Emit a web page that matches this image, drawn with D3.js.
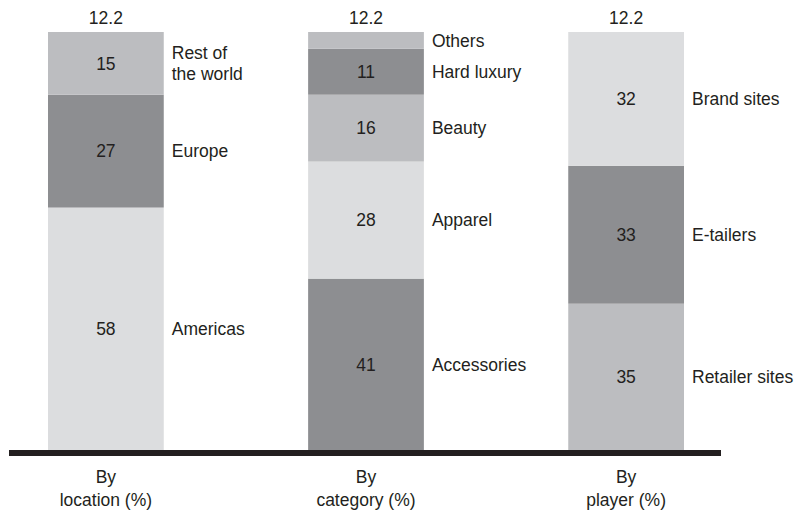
<!DOCTYPE html>
<html>
<head>
<meta charset="utf-8">
<script src="https://cdn.jsdelivr.net/npm/d3@7"></script>
<style>
  body { margin: 0; background: #fff; }
  svg text { font-family: "Liberation Sans", Arial, sans-serif; font-size: 17.5px; fill: #231f20; }
</style>
</head>
<body>
<svg id="chart" width="798" height="518"></svg>
<script>
// groups along the baseline
const groups = ["location", "category", "player"];
const groupTitles = [["By", "location (%)"], ["By", "category (%)"], ["By", "player (%)"]];
const totals = ["12.2", "12.2", "12.2"];

// segments bottom to top, per group
const locationLabels = [["Americas"], ["Europe"], ["Rest of", "the world"]];
const locationValues = [58, 27, 15];
const locationShades = ["light", "dark", "mid"];

const categoryLabels = [["Accessories"], ["Apparel"], ["Beauty"], ["Hard luxury"], ["Others"]];
const categoryValues = [41, 28, 16, 11, 4];
const categoryShades = ["dark", "light", "mid", "dark", "mid"];
const categoryShowValue = [true, true, true, true, false];

const playerLabels = [["Retailer sites"], ["E-tailers"], ["Brand sites"]];
const playerValues = [35, 33, 32];
const playerShades = ["mid", "dark", "light"];

const shadeColor = { light: "#dcdddf", mid: "#bcbdc0", dark: "#8d8e91" };

const svg = d3.select("#chart");

const x = d3.scaleBand().domain(groups).range([48, 684]).paddingInner(0.555).paddingOuter(0);
const y = d3.scaleLinear().domain([0, 100]).range([450, 32]);

// build stacked segments
function stackUp(group, values, labels, shades, showValue) {
    let acc = 0;
    return values.map(function (v, i) {
        const seg = {
            group: group, value: v, y0: acc, y1: acc + v,
            label: labels[i], shade: shades[i],
            show: showValue ? showValue[i] : true
        };
        acc += v;
        return seg;
    });
}

const segments = [].concat(
    stackUp("location", locationValues, locationLabels, locationShades),
    stackUp("category", categoryValues, categoryLabels, categoryShades, categoryShowValue),
    stackUp("player", playerValues, playerLabels, playerShades)
);

const seg = svg.append("g").selectAll("g")
    .data(segments)
    .enter().append("g");

seg.append("rect")
    .attr("x", d => x(d.group))
    .attr("width", x.bandwidth())
    .attr("y", d => y(d.y1))
    .attr("height", d => y(d.y0) - y(d.y1))
    .attr("fill", d => shadeColor[d.shade]);

seg.filter(d => d.show).append("text")
    .attr("x", d => x(d.group) + x.bandwidth() / 2)
    .attr("y", d => (y(d.y0) + y(d.y1)) / 2)
    .attr("dy", "0.36em")
    .attr("text-anchor", "middle")
    .text(d => d.value);

// segment names to the right of each bar
seg.each(function (d) {
    const mid = (y(d.y0) + y(d.y1)) / 2;
    const lh = 21;
    const t = d3.select(this).append("text")
        .attr("x", x(d.group) + x.bandwidth() + 8)
        .attr("y", mid - (d.label.length - 1) * lh / 2)
        .attr("dy", "0.36em");
    d.label.forEach(function (line, i) {
        t.append("tspan")
            .attr("x", x(d.group) + x.bandwidth() + 8)
            .attr("dy", i === 0 ? "0.36em" : lh)
            .text(line);
    });
    t.attr("dy", null);
});

// totals above bars
svg.append("g").selectAll("text")
    .data(groups)
    .enter().append("text")
    .attr("x", d => x(d) + x.bandwidth() / 2)
    .attr("y", 24)
    .attr("text-anchor", "middle")
    .text((d, i) => totals[i]);

// baseline
svg.append("line")
    .attr("x1", 9).attr("x2", 721)
    .attr("y1", y(0) + 3).attr("y2", y(0) + 3)
    .attr("stroke", "#231f20")
    .attr("stroke-width", 6);

// group titles below
const titles = svg.append("g").selectAll("text")
    .data(groups)
    .enter().append("text")
    .attr("text-anchor", "middle")
    .attr("y", 483);

titles.each(function (d, i) {
    const cx = x(d) + x.bandwidth() / 2;
    groupTitles[i].forEach(function (line, j) {
        d3.select(this).append("tspan")
            .attr("x", cx)
            .attr("dy", j === 0 ? 0 : 23)
            .text(line);
    }, this);
});
</script>
</body>
</html>
